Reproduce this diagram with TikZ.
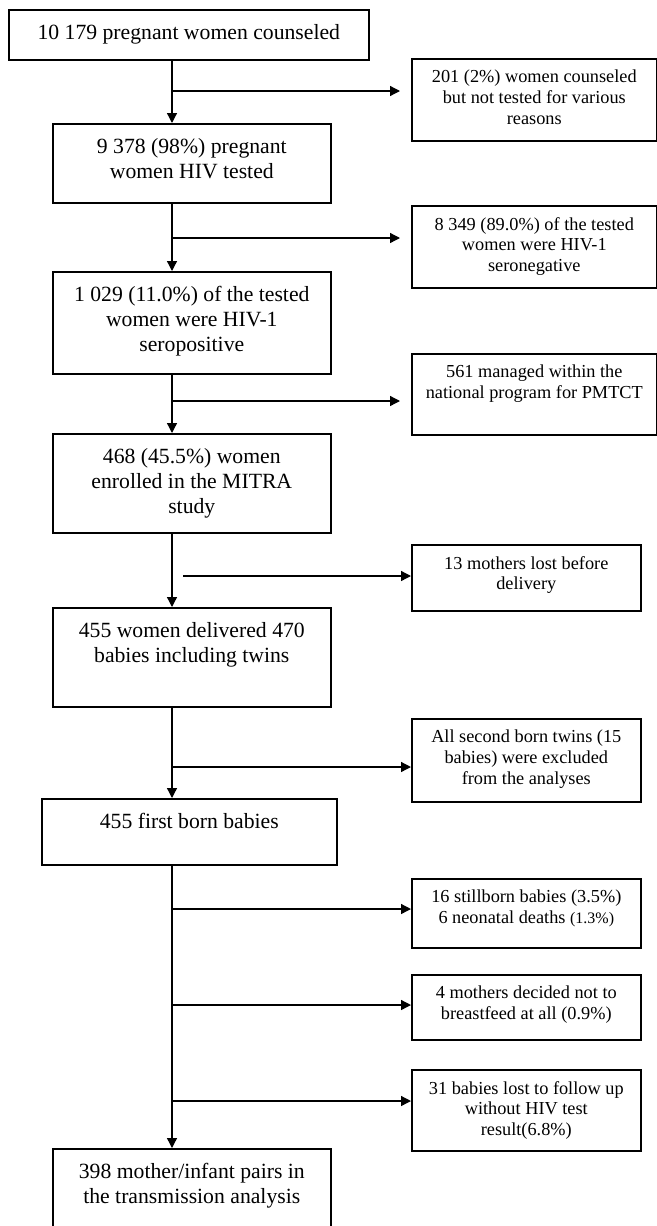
\documentclass[tikz,border=0pt]{standalone}
\usepackage{fontspec}
\setmainfont{Liberation Serif}
\usetikzlibrary{arrows.meta, positioning}

\begin{document}
\begin{tikzpicture}[x=1pt,y=-1pt,>={Triangle[length=10pt,width=10pt]},
      mainbox/.style={draw,line width=1.6pt,anchor=north west,inner sep=0pt,
        label={[anchor=north,yshift=-15pt,inner sep=0pt,align=center,
          font=\fontsize{21.7}{25}\selectfont]north:#1}},
      sidebox/.style={draw,line width=1.6pt,anchor=north west,inner sep=0pt,
        label={[anchor=north,yshift=-12pt,inner sep=0pt,align=center,
          font=\fontsize{18.3}{20.8}\selectfont]north:#1}},
      flow/.style={line width=1.3pt,->}]
      \useasboundingbox (0,0) rectangle (656,1226);
      \node[mainbox={10 179 pregnant women counseled},minimum width=360pt,minimum height=50pt] (counsel) at (8,9) {};
      \node[mainbox={9 378 (98\%) pregnant\\women HIV tested},minimum width=278pt,minimum height=79pt] (tested) at (52,123) {};
      \node[mainbox={1 029 (11.0\%) of the tested\\women were HIV-1\\seropositive},minimum width=278pt,minimum height=102pt] (positive) at (52,271) {};
      \node[mainbox={468 (45.5\%) women\\enrolled in the MITRA\\study},minimum width=278pt,minimum height=99pt] (enrolled) at (52,433) {};
      \node[mainbox={455 women delivered 470\\babies including twins},minimum width=278pt,minimum height=99pt] (delivered) at (52,607) {};
      \node[mainbox={455 first born babies},minimum width=295pt,minimum height=66pt] (firstborn) at (41,798) {};
      \node[mainbox={398 mother/infant pairs in\\the transmission analysis},minimum width=278pt,minimum height=100pt] (analysed) at (52,1148) {};

      \node[sidebox={201 (2\%) women counseled\\but not tested for various\\reasons},minimum width=245pt,minimum height=82pt] (nottested) at (411,58) {};
      \node[sidebox={8 349 (89.0\%) of the tested\\women were HIV-1\\seronegative},minimum width=245pt,minimum height=82pt] (negative) at (411,205) {};
      \node[sidebox={561 managed within the\\national program for PMTCT},minimum width=245pt,minimum height=81pt] (pmtct) at (411,353) {};
      \node[sidebox={13 mothers lost before\\delivery},minimum width=229pt,minimum height=66pt] (lostpreg) at (411,544) {};
      \node[sidebox={All second born twins (15\\babies) were excluded\\from the analyses},minimum width=229pt,minimum height=83pt] (twins) at (411,718) {};
      \node[sidebox={16 stillborn babies (3.5\%)\\6 neonatal deaths {\fontsize{16}{20.8}\selectfont(1.3\%)}},minimum width=229pt,minimum height=69pt] (deaths) at (411,878) {};
      \node[sidebox={4 mothers decided not to\\breastfeed at all (0.9\%)},minimum width=229pt,minimum height=65pt] (nobf) at (411,974) {};
      \node[sidebox={31 babies lost to follow up\\without HIV test\\result(6.8\%)},minimum width=229pt,minimum height=81pt] (lostfu) at (411,1069) {};

      \coordinate (spine) at (172,0);
      \draw[flow] (counsel.south -| spine) -- (tested.north -| spine);
      \draw[flow] (tested.south -| spine) -- (positive.north -| spine);
      \draw[flow] (positive.south -| spine) -- (enrolled.north -| spine);
      \draw[flow] (enrolled.south -| spine) -- (delivered.north -| spine);
      \draw[flow] (delivered.south -| spine) -- (firstborn.north -| spine);
      \draw[flow] (firstborn.south -| spine) -- (analysed.north -| spine);

      \coordinate (j_1) at (172,91);
      \coordinate (j_2) at (172,238);
      \coordinate (j_3) at (172,401);
      \coordinate (j_4) at (183,576);
      \coordinate (j_5) at (172,767);
      \coordinate (j_6) at (172,909);
      \coordinate (j_7) at (172,1005);
      \coordinate (j_8) at (172,1101);
      \draw[flow,shorten >=11pt] (j_1) -- (j_1 -| nottested.west);
      \draw[flow,shorten >=11pt] (j_2) -- (j_2 -| negative.west);
      \draw[flow,shorten >=11pt] (j_3) -- (j_3 -| pmtct.west);
      \draw[flow] (j_4) -- (j_4 -| lostpreg.west);
      \draw[flow] (j_5) -- (j_5 -| twins.west);
      \draw[flow] (j_6) -- (j_6 -| deaths.west);
      \draw[flow] (j_7) -- (j_7 -| nobf.west);
      \draw[flow] (j_8) -- (j_8 -| lostfu.west);
    \end{tikzpicture}
\end{document}
